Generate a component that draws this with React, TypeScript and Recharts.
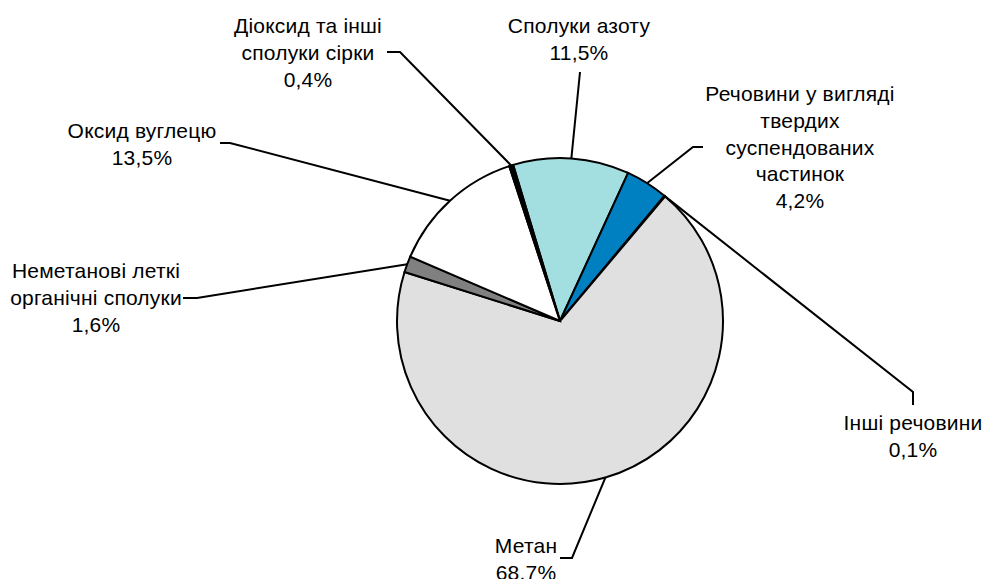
import React from 'react';
import { PieChart, Pie, Cell } from 'recharts';

const categories = [
  'Сполуки азоту',
  'Речовини у вигляді твердих суспендованих частинок',
  'Інші речовини',
  'Метан',
  'Неметанові леткі органічні сполуки',
  'Оксид вуглецю',
  'Діоксид та інші сполуки сірки',
];
const shares = [11.5, 4.2, 0.1, 68.7, 1.6, 13.5, 0.4];
const labelLines = [
  ['Сполуки азоту'],
  ['Речовини у вигляді', 'твердих', 'суспендованих', 'частинок'],
  ['Інші речовини'],
  ['Метан'],
  ['Неметанові леткі', 'органічні сполуки'],
  ['Оксид вуглецю'],
  ['Діоксид та інші', 'сполуки сірки'],
];

const colors = ['#a3dfe0', '#0080c0', '#303030', '#e0e0e0', '#808080', '#ffffff', '#000000'];

// label layout relative to the pie centre: text centre x, first baseline y, leader points (label side first)
const layout = [
  { tx: 19, ty: -288, pts: [[20, -249]] },
  { tx: 240, ty: -220, pts: [[143, -174], [133, -174]] },
  { tx: 353, ty: 109, pts: [[353, 84], [353, 71]] },
  { tx: -34, ty: 232, pts: [[0, 237], [12, 237]] },
  { tx: -464, ty: -43, pts: [[-377, -23], [-363, -23]] },
  { tx: -418, ty: -183, pts: [[-340, -178], [-330, -178]] },
  { tx: -252, ty: -288, pts: [[-173, -269], [-160, -269]] },
];

const data = categories.map((name, i) => ({ name, value: shares[i] }));
const RAD = Math.PI / 180;
const LH = 26.8;

const fmt = (v: number) => v.toFixed(1).replace('.', ',') + '%';

const renderLabel = (props: any) => {
  const { cx, cy, midAngle, outerRadius, index, value } = props;
  const l = layout[index];
  const ex = cx + outerRadius * Math.cos(-midAngle * RAD);
  const ey = cy + outerRadius * Math.sin(-midAngle * RAD);
  const pts = l.pts.map(([x, y]) => [cx + x, cy + y]);
  const d = 'M' + pts.map((p) => p[0] + ',' + p[1]).join(' L') + ` L${ex},${ey}`;
  const lines = [...labelLines[index], fmt(value)];
  return (
    <g key={'lbl' + index}>
      <path d={d} stroke="#000" strokeWidth={2} fill="none" />
      <text
        x={cx + l.tx}
        y={cy + l.ty}
        textAnchor="middle"
        fontFamily="'Liberation Sans', Arial, sans-serif"
        fontSize={21}
        letterSpacing={0.2}
        fill="#000"
      >
        {lines.map((t, j) => (
          <tspan key={j} x={cx + l.tx} y={cy + l.ty + j * LH}>
            {t}
          </tspan>
        ))}
      </text>
    </g>
  );
};

export default function App() {
  return (
    <div style={{ position: 'absolute', left: 0, top: 0, background: '#fff' }}>
      <PieChart width={986} height={579} margin={{ top: 0, right: 0, bottom: 0, left: 0 }}>
        <Pie
          data={data}
          dataKey="value"
          nameKey="name"
          cx={560}
          cy={321}
          outerRadius={163}
          startAngle={106.7}
          endAngle={-253.3}
          stroke="#000"
          strokeWidth={2}
          label={renderLabel}
          labelLine={false}
          isAnimationActive={false}
        >
          {data.map((d, i) => (
            <Cell key={d.name} fill={colors[i]} stroke="#000" strokeWidth={2} />
          ))}
        </Pie>
      </PieChart>
    </div>
  );
}
